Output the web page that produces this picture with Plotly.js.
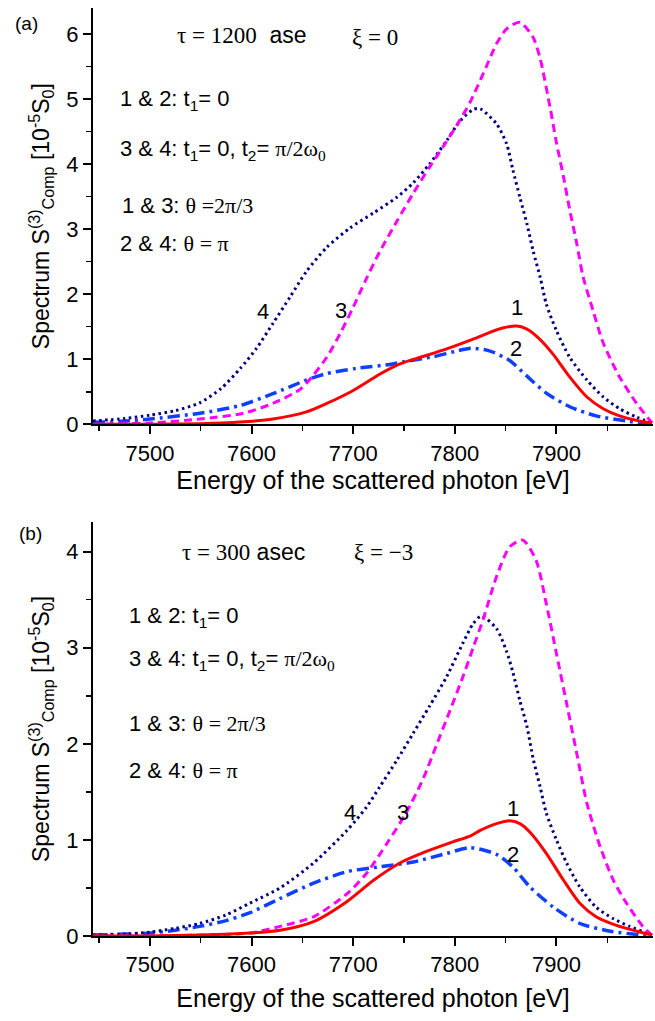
<!DOCTYPE html>
<html>
<head>
<meta charset="utf-8">
<script src="https://cdn.plot.ly/plotly-3.0.1.min.js"></script>
<style>html,body{margin:0;padding:0;background:#fff;}#chart{width:655px;height:1021px;}</style>
</head>
<body>
<div id="chart"></div>
<script>
// ---------- Panel (a): tau = 1200 asec, xi = 0 ----------
const a1_x = [7444, 7500, 7550, 7589, 7621, 7654, 7674, 7700, 7726, 7746, 7766, 7792, 7818, 7834, 7847, 7861, 7870, 7880, 7889, 7897, 7905, 7913, 7930, 7946, 7962, 7979, 7994];
const a1_y = [0, 0, 0.01, 0.035, 0.08, 0.19, 0.32, 0.52, 0.77, 0.93, 1.03, 1.16, 1.31, 1.41, 1.48, 1.51, 1.47, 1.36, 1.22, 1.07, 0.90, 0.73, 0.42, 0.24, 0.13, 0.06, 0.02];

const a2_x = [7444, 7475, 7500, 7549, 7589, 7621, 7654, 7674, 7703, 7736, 7749, 7779, 7800, 7816, 7834, 7854, 7871, 7890, 7913, 7939, 7969, 7994];
const a2_y = [0.03, 0.05, 0.08, 0.17, 0.29, 0.47, 0.68, 0.78, 0.86, 0.92, 0.96, 1.04, 1.12, 1.17, 1.13, 0.98, 0.74, 0.48, 0.27, 0.13, 0.05, 0.0];

const a3_x = [7444, 7500, 7549, 7592, 7621, 7648, 7660, 7674, 7687, 7700, 7713, 7726, 7743, 7759, 7775, 7789, 7802, 7815, 7831, 7841, 7851, 7864, 7877, 7884, 7894, 7900, 7907, 7913, 7920, 7926, 7936, 7946, 7962, 7979, 7994];
const a3_y = [0, 0.02, 0.08, 0.17, 0.32, 0.54, 0.74, 1.03, 1.39, 1.80, 2.24, 2.65, 3.12, 3.55, 3.95, 4.28, 4.60, 4.95, 5.50, 5.85, 6.08, 6.18, 5.95, 5.62, 4.85, 4.33, 3.80, 3.30, 2.78, 2.28, 1.75, 1.25, 0.73, 0.32, 0.02];

const a4_x = [7444, 7475, 7500, 7525, 7549, 7570, 7589, 7605, 7621, 7638, 7654, 7674, 7697, 7720, 7743, 7759, 7775, 7792, 7805, 7818, 7825, 7841, 7851, 7857, 7864, 7871, 7877, 7884, 7890, 7900, 7913, 7930, 7946, 7962, 7979, 7994];
const a4_y = [0.05, 0.09, 0.14, 0.21, 0.33, 0.55, 0.86, 1.17, 1.55, 1.96, 2.35, 2.72, 3.02, 3.25, 3.49, 3.71, 4.00, 4.36, 4.66, 4.84, 4.85, 4.62, 4.31, 3.92, 3.49, 3.08, 2.67, 2.26, 1.85, 1.44, 1.03, 0.68, 0.42, 0.24, 0.11, 0.02];

// ---------- Panel (b): tau = 300 asec, xi = -3 ----------
const b1_x = [7444, 7500, 7550, 7598, 7628, 7661, 7694, 7720, 7746, 7772, 7798, 7815, 7825, 7841, 7854, 7864, 7874, 7890, 7907, 7923, 7939, 7959, 7979, 7994];
const b1_y = [0, 0, 0.01, 0.03, 0.06, 0.15, 0.36, 0.58, 0.76, 0.88, 0.98, 1.04, 1.10, 1.17, 1.20, 1.17, 1.08, 0.86, 0.58, 0.34, 0.20, 0.11, 0.05, 0.01];

const b2_x = [7444, 7475, 7500, 7525, 7549, 7575, 7598, 7628, 7661, 7694, 7726, 7759, 7792, 7815, 7841, 7857, 7874, 7897, 7923, 7953, 7994];
const b2_y = [0.01, 0.02, 0.03, 0.06, 0.10, 0.16, 0.24, 0.39, 0.55, 0.67, 0.72, 0.77, 0.86, 0.92, 0.85, 0.72, 0.51, 0.30, 0.13, 0.05, 0.0];

const b3_x = [7444, 7500, 7550, 7598, 7628, 7661, 7694, 7713, 7733, 7752, 7769, 7782, 7795, 7808, 7818, 7828, 7841, 7854, 7867, 7880, 7890, 7900, 7910, 7920, 7930, 7943, 7956, 7969, 7985, 7994];
const b3_y = [0, 0, 0.01, 0.03, 0.10, 0.20, 0.44, 0.65, 0.96, 1.28, 1.64, 1.99, 2.34, 2.70, 3.00, 3.30, 3.74, 4.05, 4.12, 3.91, 3.46, 2.94, 2.42, 1.90, 1.38, 0.93, 0.58, 0.34, 0.10, 0.01];

const b4_x = [7444, 7475, 7500, 7525, 7549, 7575, 7598, 7628, 7661, 7694, 7713, 7726, 7743, 7759, 7775, 7792, 7808, 7818, 7826, 7841, 7851, 7857, 7864, 7871, 7877, 7884, 7890, 7900, 7910, 7923, 7939, 7956, 7972, 7989, 7994];
const b4_y = [0.01, 0.02, 0.04, 0.08, 0.13, 0.22, 0.34, 0.50, 0.76, 1.10, 1.34, 1.55, 1.83, 2.11, 2.39, 2.70, 3.05, 3.25, 3.33, 3.20, 2.96, 2.75, 2.45, 2.18, 1.85, 1.55, 1.28, 1.00, 0.76, 0.51, 0.30, 0.18, 0.10, 0.03, 0.01];

const xTicks = [7500, 7600, 7700, 7800, 7900];
const xTickText = ['7500', '7600', '7700', '7800', '7900'];
const yTicksA = [0, 1, 2, 3, 4, 5, 6];
const yTicksB = [0, 1, 2, 3, 4];

const SANS = 'Liberation Sans, Arial, sans-serif';
const SERIF = 'Liberation Serif, Times New Roman, serif';

const styles = {
  c1: {color: '#ff0000', width: 3, dash: 'solid'},
  c2: {color: '#1040ff', width: 3.5, dash: '12px,5px,3px,5px'},
  c3: {color: '#ff00ff', width: 3, dash: '8px,5px'},
  c4: {color: '#000080', width: 3, dash: '2.5px,3.5px'}
};

function tr(x, y, st, xa, ya, name) {
  return {x: x, y: y, type: 'scatter', mode: 'lines', name: name, xaxis: xa, yaxis: ya,
    line: {color: st.color, width: st.width, dash: st.dash, shape: 'spline', smoothing: 0.7},
    hoverinfo: 'skip'};
}

const data = [
  tr(a2_x, a2_y, styles.c2, 'x', 'y', '2'),
  tr(a4_x, a4_y, styles.c4, 'x', 'y', '4'),
  tr(a3_x, a3_y, styles.c3, 'x', 'y', '3'),
  tr(a1_x, a1_y, styles.c1, 'x', 'y', '1'),
  tr(b2_x, b2_y, styles.c2, 'x2', 'y2', '2'),
  tr(b4_x, b4_y, styles.c4, 'x2', 'y2', '4'),
  tr(b3_x, b3_y, styles.c3, 'x2', 'y2', '3'),
  tr(b1_x, b1_y, styles.c1, 'x2', 'y2', '1')
];

const tickFont = {family: SANS, size: 22, color: '#000'};
const titleFont = {family: SANS, size: 25, color: '#000'};

function xAxis(anchor, standoff) {
  return {
    anchor: anchor, domain: [0, 1], range: [7444, 7995],
    showline: true, linecolor: '#000', linewidth: 2, mirror: false,
    ticks: 'outside', ticklen: 8, tickwidth: 2, tickcolor: '#000',
    tickvals: xTicks, ticktext: xTickText, tickfont: tickFont,
    minor: {dtick: 50, tick0: 7450, ticks: 'outside', ticklen: 5, tickwidth: 1.5, tickcolor: '#000', showgrid: false},
    showgrid: false, zeroline: false,
    title: {text: 'Energy of the scattered photon [eV]', font: titleFont, standoff: standoff}
  };
}
function yAxis(anchor, domain, range, ticks) {
  return {
    anchor: anchor, domain: domain, range: range,
    showline: true, linecolor: '#000', linewidth: 2,
    ticks: 'outside', ticklen: 8, tickwidth: 2, tickcolor: '#000',
    tickvals: ticks, tickfont: tickFont,
    minor: {dtick: 0.5, tick0: 0, ticks: 'outside', ticklen: 5, tickwidth: 1.5, tickcolor: '#000', showgrid: false},
    showgrid: false, zeroline: false,
    title: {text: 'Spectrum S<sup>(3)</sup><sub>Comp</sub> [10<sup>-5</sup>S<sub>0</sub>]', font: {family: SANS, size: 23, color: '#000'}, standoff: 10}
  };
}

function ann(text, x, y, xr, yr, opts) {
  return Object.assign({text: text, x: x, y: y, xref: xr, yref: yr, showarrow: false,
    xanchor: 'left', yanchor: 'middle', font: {family: SANS, size: 22, color: '#000'}}, opts || {});
}
const sf = '<span style="font-family:Liberation Serif">';
const annotations = [
  // panel a
  ann('(a)', -0.118, 0.962, 'x domain', 'y domain', {xanchor: 'center', font: {family: SANS, size: 19, color: '#000'}}),
  ann(sf + 'τ = 1200</span>  ase', 0.146, 0.936, 'x domain', 'y domain', {font: {family: SANS, size: 23, color: '#000'}}),
  ann('ξ = 0', 0.459, 0.929, 'x domain', 'y domain', {font: {family: SERIF, size: 23, color: '#000'}}),
  ann('1 &amp; 2: t<sub>1</sub>= 0', 0.045, 0.778, 'x domain', 'y domain'),
  ann('3 &amp; 4: t<sub>1</sub>= 0, t<sub>2</sub>= ' + sf + 'π/2ω<sub>0</sub></span>', 0.045, 0.658, 'x domain', 'y domain'),
  ann('1 &amp; 3: ' + sf + 'θ =2π/3</span>', 0.048, 0.526, 'x domain', 'y domain'),
  ann('2 &amp; 4: ' + sf + 'θ = π</span>', 0.045, 0.435, 'x domain', 'y domain'),
  ann('4', 0.304, 0.271, 'x domain', 'y domain', {xanchor: 'center'}),
  ann('3', 0.443, 0.274, 'x domain', 'y domain', {xanchor: 'center'}),
  ann('1', 0.757, 0.281, 'x domain', 'y domain', {xanchor: 'center'}),
  ann('2', 0.755, 0.182, 'x domain', 'y domain', {xanchor: 'center'}),
  // panel b
  ann('(b)', -0.1125, 0.972, 'x2 domain', 'y2 domain', {xanchor: 'center', font: {family: SANS, size: 19, color: '#000'}}),
  ann(sf + 'τ = 300</span> asec', 0.155, 0.927, 'x2 domain', 'y2 domain', {font: {family: SANS, size: 23, color: '#000'}}),
  ann('ξ = −3', 0.4625, 0.927, 'x2 domain', 'y2 domain', {font: {family: SERIF, size: 23, color: '#000'}}),
  ann('1 &amp; 2: t<sub>1</sub>= 0', 0.061, 0.77, 'x2 domain', 'y2 domain'),
  ann('3 &amp; 4: t<sub>1</sub>= 0, t<sub>2</sub>= ' + sf + 'π/2ω<sub>0</sub></span>', 0.061, 0.666, 'x2 domain', 'y2 domain'),
  ann('1 &amp; 3: ' + sf + 'θ = 2π/3</span>', 0.061, 0.514, 'x2 domain', 'y2 domain'),
  ann('2 &amp; 4: ' + sf + 'θ = π</span>', 0.061, 0.40, 'x2 domain', 'y2 domain'),
  ann('4', 0.459, 0.299, 'x2 domain', 'y2 domain', {xanchor: 'center'}),
  ann('3', 0.554, 0.299, 'x2 domain', 'y2 domain', {xanchor: 'center'}),
  ann('1', 0.75, 0.309, 'x2 domain', 'y2 domain', {xanchor: 'center'}),
  ann('2', 0.75, 0.196, 'x2 domain', 'y2 domain', {xanchor: 'center'})
];

const layout = {
  width: 655, height: 1021,
  margin: {l: 93, r: 2, t: 7.5, b: 85},
  paper_bgcolor: '#fff', plot_bgcolor: '#fff',
  showlegend: false,
  font: {family: SANS, color: '#000'},
  xaxis: xAxis('y', 5),
  yaxis: yAxis('x', [0.5514, 1], [0, 6.4], yTicksA),
  xaxis2: xAxis('y2', 13),
  yaxis2: yAxis('x2', [0, 0.4462], [0, 4.31], yTicksB),
  annotations: annotations
};

Plotly.newPlot('chart', data, layout, {staticPlot: true, displayModeBar: false});
</script>
</body>
</html>
